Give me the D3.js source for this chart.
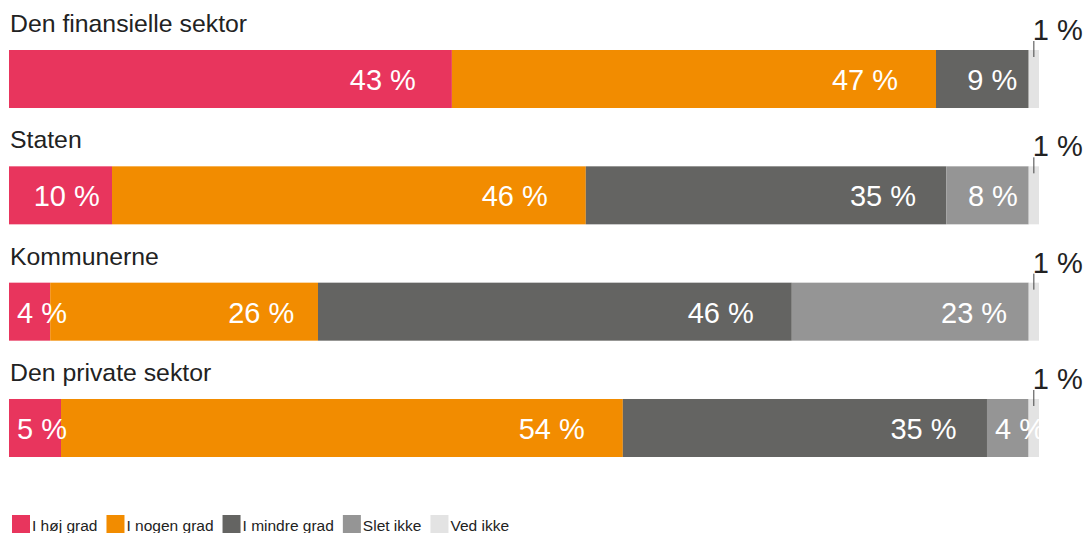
<!DOCTYPE html>
<html>
<head>
<meta charset="utf-8">
<script src="https://cdn.jsdelivr.net/npm/d3@7"></script>
<style>
  html, body { margin: 0; padding: 0; background: #fff; }
  svg { display: block; font-family: "Liberation Sans", Arial, Helvetica, sans-serif; }
</style>
</head>
<body>
<svg id="chart" width="1086" height="533"></svg>
<script>
// ---- data ----
const categories = ["Den finansielle sektor", "Staten", "Kommunerne", "Den private sektor"];
const seriesNames = ["I høj grad", "I nogen grad", "I mindre grad", "Slet ikke", "Ved ikke"];
const hoejGrad    = [43, 10, 4, 5];
const nogenGrad   = [47, 46, 26, 54];
const mindreGrad  = [9, 35, 46, 35];
const sletIkke    = [0, 8, 23, 4];
const vedIkke     = [1, 1, 1, 1];
const colors = ["#e8355d", "#f28c00", "#646462", "#959595", "#e3e3e3"];

const seriesValues = [hoejGrad, nogenGrad, mindreGrad, sletIkke, vedIkke];

// ---- layout ----
const svg = d3.select("#chart");
const barLeft = 9, barRight = 1039;
const x = d3.scaleLinear().domain([0, 1]).range([barLeft, barRight]);
const y = d3.scaleBand().domain(categories).range([50, 457]).paddingInner(0.5014).paddingOuter(0);
const color = d3.scaleOrdinal().domain(seriesNames).range(colors);

const rows = categories.map((cat, i) => {
  const vals = seriesValues.map(s => s[i]);
  const total = d3.sum(vals);
  let acc = 0;
  const segs = vals.map((v, j) => {
    const s = { cat, name: seriesNames[j], value: v, x0: acc / total, x1: (acc + v) / total, idx: j };
    acc += v;
    return s;
  });
  return { cat, segs };
});

const measure = svg.append("text").attr("opacity", 0);
function textW(t, size) {
  measure.attr("font-size", size).text(t);
  return measure.node().getComputedTextLength();
}

const g = svg.append("g");

rows.forEach(row => {
  const top = y(row.cat);
  const bh = y.bandwidth();

  g.append("text")
    .attr("x", barLeft + 1)
    .attr("y", top - 18)
    .attr("font-size", 24.8)
    .attr("fill", "#222")
    .text(row.cat);

  g.selectAll(null)
    .data(row.segs.filter(s => s.value > 0))
    .enter().append("rect")
    .attr("x", d => x(d.x0))
    .attr("y", top)
    .attr("width", d => x(d.x1) - x(d.x0))
    .attr("height", bh)
    .attr("fill", d => color(d.name));

  row.segs.filter(s => s.value > 0 && s.idx < 4).forEach(s => {
    const label = s.value + " %";
    const w = textW(label, 29);
    const x0 = x(s.x0), x1 = x(s.x1);
    const segW = x1 - x0;
    let tx, anchor;
    if (segW < w + 20) { tx = x0 + 8; anchor = "start"; }
    else { tx = x1 - Math.min(38, 0.07 * segW + 5); anchor = "end"; }
    g.append("text")
      .attr("x", tx)
      .attr("y", top + bh / 2 + 11)
      .attr("text-anchor", anchor)
      .attr("font-size", 29)
      .attr("fill", "#fff")
      .text(label);
  });

  const last = row.segs[4];
  const cx = x((last.x0 + last.x1) / 2);
  g.append("line")
    .attr("x1", cx).attr("x2", cx)
    .attr("y1", top - 9).attr("y2", top + 7)
    .attr("stroke", "#444").attr("stroke-width", 1);
  g.append("text")
    .attr("x", cx - 1)
    .attr("y", top - 10)
    .attr("font-size", 29)
    .attr("fill", "#222")
    .text(last.value + " %");
});

// ---- legend ----
const legend = svg.append("g");
let lx = 12;
seriesNames.forEach(name => {
  legend.append("rect")
    .attr("x", lx).attr("y", 515)
    .attr("width", 18).attr("height", 18)
    .attr("fill", color(name));
  const t = legend.append("text")
    .attr("x", lx + 20).attr("y", 531)
    .attr("font-size", 15.5)
    .attr("fill", "#222")
    .text(name);
  lx = lx + 20 + t.node().getComputedTextLength() + 9;
});
measure.remove();
</script>
</body>
</html>
